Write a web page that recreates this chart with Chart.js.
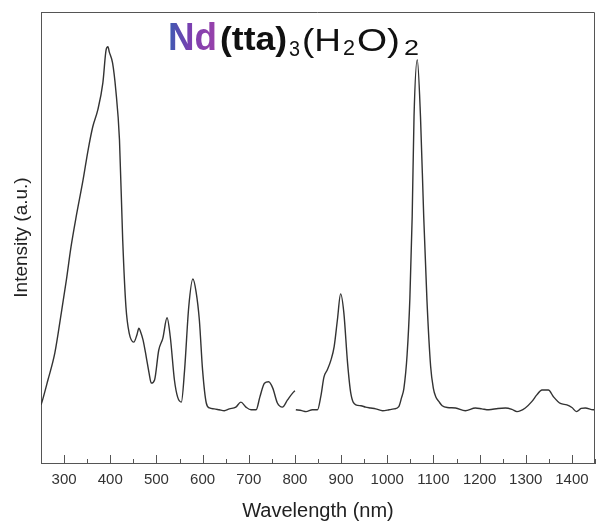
<!DOCTYPE html>
<html>
<head>
<meta charset="utf-8">
<script src="https://cdn.jsdelivr.net/npm/chart.js@4.4.1/dist/chart.umd.min.js"></script>
<style>
  html, body { margin: 0; padding: 0; background: #fff; }
  #wrap { width: 596px; height: 523px; }
</style>
</head>
<body>
<div id="wrap"><canvas id="spec" width="596" height="523"></canvas></div>
<script>
const wl1 = [250, 252, 265, 280, 294, 305, 315, 326, 341, 352, 362, 373, 384, 391, 395, 398, 405, 412, 420, 427,
  434, 441, 451, 458, 462, 466, 471, 478, 484, 489, 496, 505, 514, 523, 530, 539, 546, 554, 561, 570,
  579, 586, 593, 600, 608, 615, 625, 636, 647, 658, 672, 683, 694, 705, 716, 724, 734, 743, 752, 762,
  773, 784, 795, 800];
const int1 = [12.9, 13.5, 18.4, 24.4, 33.3, 40.6, 47.9, 54.5, 62.7, 69.4, 74.5, 78.3, 84.3, 91.6, 92.3, 91.1, 88.7, 82.7, 71.6, 49.4,
  34.6, 28.8, 26.8, 28.5, 29.9, 29.0, 27.3, 23.5, 20.0, 17.7, 18.4, 25.0, 27.7, 32.2, 28.0, 18.4, 14.6, 13.5, 20.6, 34.6,
  40.8, 37.9, 31.7, 20.6, 13.3, 12.2, 12.0, 11.8, 11.6, 12.0, 12.4, 13.5, 12.4, 11.8, 11.8, 14.6, 17.7, 18.0, 16.6, 13.3,
  12.4, 14.0, 15.5, 16.0];

const wl2 = [802, 815, 824, 838, 849, 856, 863, 870, 878, 885, 892, 899, 906, 914, 921, 932, 943, 953, 964, 975,
  990, 1004, 1015, 1025, 1031, 1036, 1043, 1049, 1054, 1058, 1065, 1072, 1079, 1086, 1094, 1100, 1105, 1112, 1119, 1130,
  1148, 1169, 1191, 1205, 1220, 1240, 1256, 1270, 1281, 1299, 1313, 1324, 1335, 1349, 1360, 1375, 1389, 1400, 1410, 1420,
  1429, 1446, 1450];
const int2 = [11.8, 11.6, 11.4, 11.8, 11.8, 14.7, 19.1, 20.6, 22.8, 25.8, 31.7, 37.5, 33.3, 22.2, 15.5, 12.9, 12.7, 12.4, 12.2, 12.0,
  11.6, 11.8, 12.0, 12.5, 14.5, 16.5, 24.0, 36.5, 54.6, 76.8, 89.4, 76.8, 54.6, 36.1, 21.4, 16.5, 14.7, 13.6, 12.7, 12.3,
  12.2, 11.6, 12.2, 12.0, 11.8, 12.1, 12.2, 11.9, 11.4, 12.2, 13.6, 15.1, 16.2, 16.2, 14.7, 13.2, 12.9, 12.3, 11.4, 12.1,
  12.2, 11.8, 11.9];

const xTicks = [300, 400, 500, 600, 700, 800, 900, 1000, 1100, 1200, 1300, 1400];
const xMinor = [250, 350, 450, 550, 650, 750, 850, 950, 1050, 1150, 1250, 1350, 1450];

function toPoints(xs, ys) {
  return xs.map((x, i) => ({ x: x, y: ys[i] }));
}

// frame on top/right plus inward tick marks on the bottom axis
const framePlugin = {
  id: 'frame',
  afterDraw(chart) {
    const { ctx, chartArea: a, scales } = chart;
    ctx.save();
    ctx.strokeStyle = '#555';
    ctx.lineWidth = 1;
    ctx.beginPath();
    ctx.moveTo(a.left, a.top + 0.5);
    ctx.lineTo(a.right - 0.5, a.top + 0.5);
    ctx.lineTo(a.right - 0.5, a.bottom);
    ctx.stroke();
    ctx.beginPath();
    xTicks.forEach(v => {
      const px = Math.round(scales.x.getPixelForValue(v)) + 0.5;
      ctx.moveTo(px, a.bottom);
      ctx.lineTo(px, a.bottom - 8);
    });
    xMinor.forEach(v => {
      const px = Math.round(scales.x.getPixelForValue(v)) + 0.5;
      ctx.moveTo(px, a.bottom);
      ctx.lineTo(px, a.bottom - 4);
    });
    ctx.stroke();
    ctx.restore();
  }
};

// formula label Nd(tta)3(H2O)2 inside the plot
const formulaPlugin = {
  id: 'formula',
  afterDraw(chart) {
    const ctx = chart.ctx;
    const fam = '"Liberation Sans", Arial, Helvetica, sans-serif';
    const pieces = [
      { t: 'Nd', font: 'bold 38px ' + fam, x: 168, w: 49, base: 50, grad: true },
      { t: '(tta)', font: 'bold 34px ' + fam, x: 220, w: 67, base: 50 },
      { t: '3', font: '22px ' + fam, x: 289, w: 11, base: 56 },
      { t: '(H', font: '31px ' + fam, x: 302, w: 39, base: 51 },
      { t: '2', font: '22px ' + fam, x: 343, w: 12, base: 55 },
      { t: 'O)', font: '31px ' + fam, x: 357, w: 43, base: 51 },
      { t: '2', font: '22px ' + fam, x: 404, w: 15, base: 55 }
    ];
    ctx.save();
    ctx.textBaseline = 'alphabetic';
    ctx.textAlign = 'left';
    pieces.forEach(p => {
      ctx.font = p.font;
      const m = ctx.measureText(p.t).width;
      const sx = p.w / m;
      ctx.save();
      ctx.translate(p.x, p.base);
      ctx.scale(sx, 1);
      if (p.grad) {
        const g = ctx.createLinearGradient(0, 0, m, 0);
        g.addColorStop(0, '#3b5cb2');
        g.addColorStop(0.45, '#7a3fb0');
        g.addColorStop(1, '#9a42aa');
        ctx.fillStyle = g;
      } else {
        ctx.fillStyle = '#111';
      }
      ctx.fillText(p.t, 0, 0);
      ctx.restore();
    });
    ctx.restore();
  }
};

const lineStyle = {
  borderColor: '#333',
  borderWidth: 1.4,
  pointRadius: 0,
  fill: false,
  cubicInterpolationMode: 'monotone'
};

new Chart(document.getElementById('spec'), {
  type: 'line',
  data: {
    datasets: [
      Object.assign({ label: 'seg1', data: toPoints(wl1, int1) }, lineStyle),
      Object.assign({ label: 'seg2', data: toPoints(wl2, int2) }, lineStyle)
    ]
  },
  options: {
    responsive: false,
    animation: false,
    layout: { padding: { top: 12, right: 1, left: 0, bottom: 0 } },
    plugins: { legend: { display: false }, tooltip: { enabled: false } },
    scales: {
      x: {
        type: 'linear',
        min: 250,
        max: 1450,
        afterBuildTicks: s => { s.ticks = xTicks.map(v => ({ value: v })); },
        afterFit: s => { s.height = 60; s.paddingLeft = 0; s.paddingRight = 0; },
        grid: { display: false, drawTicks: false },
        border: { display: true, color: '#555', width: 1 },
        ticks: {
          padding: 8,
          color: '#333',
          maxRotation: 0,
          autoSkip: false,
          callback: v => String(v),
          font: { family: '"Liberation Sans", Arial, sans-serif', size: 15 }
        },
        title: {
          display: true,
          text: 'Wavelength (nm)',
          color: '#222',
          padding: { top: 0, bottom: 0 },
          font: { family: '"Liberation Sans", Arial, sans-serif', size: 20 }
        }
      },
      y: {
        min: 0,
        max: 100,
        afterFit: s => { s.width = 41; },
        grid: { display: false, drawTicks: false },
        border: { display: true, color: '#555', width: 1 },
        ticks: { display: false },
        title: {
          display: true,
          text: 'Intensity (a.u.)',
          color: '#222',
          padding: { top: 10, bottom: 0 },
          font: { family: '"Liberation Sans", Arial, sans-serif', size: 19 }
        }
      }
    }
  },
  plugins: [framePlugin, formulaPlugin]
});
</script>
</body>
</html>
